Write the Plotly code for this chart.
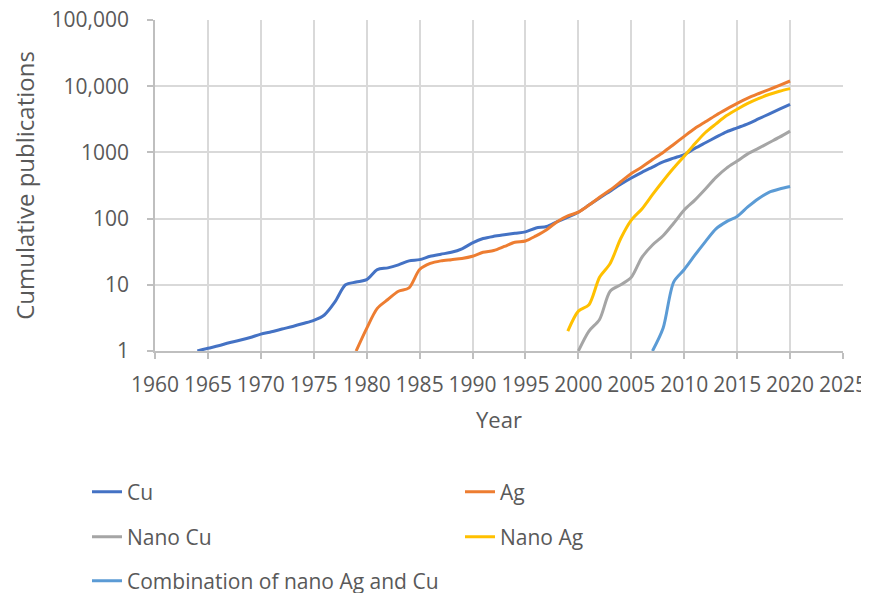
import plotly.graph_objects as go

# ---- data ----
cu_years = list(range(1964, 2021))
cu_vals = [1.0, 1.1, 1.2, 1.33, 1.45, 1.6, 1.8, 1.95, 2.15, 2.35, 2.6, 2.9, 3.5, 5.5,
           10, 11, 12, 17, 18, 20, 23, 24, 27, 29, 31, 35, 43, 50, 54, 57, 60, 63,
           72, 76, 90, 105, 125, 160, 205, 260, 330, 410, 500, 600, 720, 820, 930,
           1150, 1400, 1700, 2050, 2350, 2700, 3200, 3800, 4500, 5300]

ag_years = list(range(1979, 2021))
ag_vals = [1, 2.2, 4.4, 6, 8, 9, 17, 21, 23, 24, 25, 27, 31, 33, 38, 44, 46, 55, 68,
           90, 110, 125, 160, 210, 270, 360, 480, 600, 780, 1000, 1320, 1750, 2300,
           2900, 3650, 4500, 5500, 6600, 7700, 8900, 10300, 12000]

nanocu_years = list(range(2000, 2021))
nanocu_vals = [1, 2, 3, 8, 10, 13, 26, 40, 55, 85, 135, 190, 280, 420, 580, 740, 950,
               1150, 1400, 1700, 2100]

nanoag_years = list(range(1999, 2021))
nanoag_vals = [2, 4, 5, 13, 21, 50, 95, 140, 230, 370, 580, 875, 1350, 2000, 2700,
               3600, 4500, 5500, 6500, 7500, 8400, 9200]

combo_years = list(range(2007, 2021))
combo_vals = [1, 2.2, 11, 17, 28, 45, 70, 90, 108, 150, 200, 250, 280, 305]

series_names = ["Cu", "Ag", "Nano Cu", "Nano Ag", "Combination of nano Ag and Cu"]
series_colors = ["#4472C4", "#ED7D31", "#A5A5A5", "#FFC000", "#5B9BD5"]
series_data = [(cu_years, cu_vals), (ag_years, ag_vals), (nanocu_years, nanocu_vals),
               (nanoag_years, nanoag_vals), (combo_years, combo_vals)]

y_tickvals = [1, 10, 100, 1000, 10000, 100000]
y_ticktext = ["1", "10", "100", "1000", "10,000", "100,000"]

FONT = "Open Sans"
TXT = "#595959"
GRID = "#d9d9d9"
AXC = "#bfbfbf"

# page body adds an 8px margin, so the figure is 8px smaller than the window
W, H = 861, 585
ML, MR, MT, MB = 147, 26, 12, 242
PW, PH = W - ML - MR, H - MT - MB

# legend placement (figure pixel positions of each legend box -> paper fractions)
legend_ids = ["legend", "legend2", "legend3", "legend4", "legend5"]
legend_px = [(79, 484), (452, 484), (79, 529), (452, 529), (79, 573)]

fig = go.Figure()
for name, color, leg, (xs, ys) in zip(series_names, series_colors, legend_ids, series_data):
    fig.add_trace(go.Scatter(x=xs, y=ys, mode="lines", name=name, legend=leg,
                             line=dict(color=color, width=3, shape="spline", smoothing=0.8)))

legends = {}
for leg, (px, py) in zip(legend_ids, legend_px):
    legends[leg] = dict(orientation="v", xref="paper", yref="paper",
                        xanchor="left", yanchor="middle",
                        x=(px - ML) / PW, y=(H - MB - py) / PH,
                        font=dict(family=FONT, size=21, color=TXT),
                        bgcolor="rgba(0,0,0,0)", borderwidth=0)

fig.update_layout(
    width=W, height=H,
    margin=dict(l=ML, r=MR, t=MT, b=MB, autoexpand=False),
    paper_bgcolor="white", plot_bgcolor="white",
    font=dict(family=FONT, size=20, color=TXT),
    xaxis=dict(range=[1960, 2025], dtick=5, tick0=1960, showgrid=True, gridcolor=GRID,
               gridwidth=1.5, showline=True, linecolor=AXC, linewidth=1.5,
               ticks="outside", ticklen=6, tickcolor=AXC, tickwidth=1.5,
               ticklabelstandoff=8, ticklabeloverflow="allow",
               tickfont=dict(family=FONT, size=21, color=TXT),
               title=dict(text="Year", font=dict(family=FONT, size=22, color=TXT), standoff=16),
               zeroline=False),
    yaxis=dict(type="log", range=[0, 5.0005], tickvals=y_tickvals, ticktext=y_ticktext,
               showgrid=True, gridcolor=GRID, gridwidth=1.5, showline=True,
               linecolor=AXC, linewidth=1.5, ticks="outside", ticklen=6,
               tickcolor=AXC, tickwidth=1.5, ticklabelstandoff=14,
               ticklabeloverflow="allow",
               tickfont=dict(family=FONT, size=21, color=TXT),
               title=dict(text="Cumulative publications",
                          font=dict(family=FONT, size=24, color=TXT), standoff=10),
               zeroline=False),
    showlegend=True,
    **legends,
)

fig.write_html(
    "out.html",
    post_script="document.documentElement.style.overflow='hidden';"
                "document.body.style.overflow='hidden';",
)
